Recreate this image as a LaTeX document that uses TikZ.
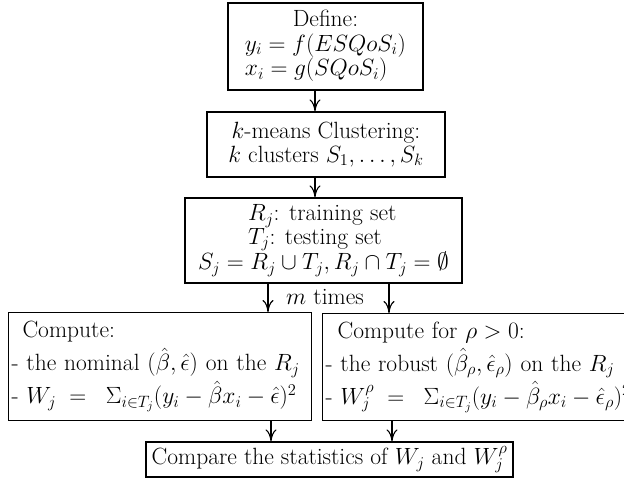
\RequirePackage{fix-cm}
\documentclass[tikz,border=0pt]{standalone}
\usetikzlibrary{arrows.meta}
\begin{document}
\begin{tikzpicture}[x=1pt,y=-1pt,
  txt/.style={font=\fontsize{23.5}{23.5}\selectfont},
  box/.style={txt,draw,line width=1.1pt,inner sep=0pt},
  wide/.style={box,font=\fontsize{23.5}{33}\selectfont,anchor=north west,inner xsep=3pt,align=left},
  arr/.style={line width=1.1pt,-{Computer Modern Rightarrow[length=12pt,width=11pt,line width=1.1pt]}}]
\useasboundingbox (0,0) rectangle (624,484);
\clip (0,0) rectangle (624,484);
\node[box,minimum width=195pt,minimum height=87pt] (def) at (325.5,46.5)
  {\begin{tabular}{@{}l@{}}\multicolumn{1}{@{}c@{}}{Define:}\\ $y_i = f(ESQoS_i)$\\ $x_i = g(SQoS_i)$\end{tabular}};
\node[box,minimum width=238pt,minimum height=65pt,align=center] (km) at (326,144.5)
  {$k$-means Clustering:\\ $k$ clusters $S_1,\ldots,S_k$};
\node[box,minimum width=277pt,minimum height=85pt,align=left] (sets) at (323.5,240.5)
  {\hspace*{50pt}$R_j$: training set\\ \hspace*{50pt}$T_j$: testing set\\ $S_j = R_j\cup T_j, R_j\cap T_j=\emptyset$};
\node[wide,minimum width=303pt,minimum height=108pt,text width=297pt] (nom) at (8,312)
  {\hspace*{11pt}Compute:\\ - the nominal $(\hat\beta,\hat\epsilon)$ on the $R_j$\\ - $W_j\;=\;\;\Sigma_{i\in T_j}(y_i-\hat\beta x_i-\hat\epsilon)^2$};
\node[wide,minimum width=340pt,minimum height=107pt,text width=334pt] (rob) at (322,313)
  {\hspace*{12pt}Compute for $\rho>0$:\\ - the robust $(\hat\beta_\rho,\hat\epsilon_\rho)$ on the $R_j$\\ - $W_j^\rho\;=\;\;\Sigma_{i\in T_j}(y_i-\hat\beta_\rho x_i-\hat\epsilon_\rho)^2$};
\node[box,minimum width=367pt,minimum height=35pt] (cmp) at (329.5,459.5)
  {Compare the statistics of $W_j$ and $W_j^\rho$};
\node[txt] (mt) at (325,297) {$m$ times};
\coordinate (a1) at (315,0);
\coordinate (a2) at (268,0);
\coordinate (a3) at (389,0);
\coordinate (a4) at (271,0);
\coordinate (a5) at (392,0);
\draw[arr] (def.south -| a1) -- (km.north -| a1);
\draw[arr] (km.south -| a1) -- (sets.north -| a1);
\draw[arr] (sets.south -| a2) -- (nom.north -| a2);
\draw[arr] (sets.south -| a3) -- (rob.north -| a3);
\draw[arr] (nom.south -| a4) -- (cmp.north -| a4);
\draw[arr] (rob.south -| a5) -- (cmp.north -| a5);
\end{tikzpicture}
\end{document}
